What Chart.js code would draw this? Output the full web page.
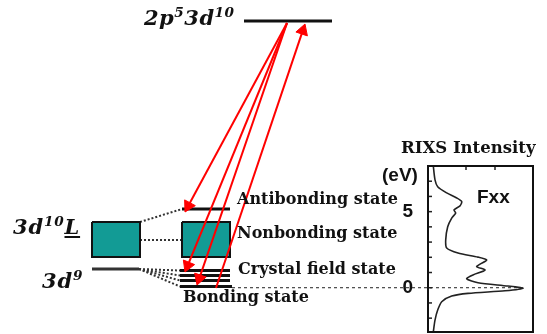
<!DOCTYPE html>
<html lang="en">
<head>
<meta charset="UTF-8">
<title>RIXS energy level diagram</title>
<style>
  body { margin: 0; background: #fff; }
  #wrap { position: relative; width: 547px; height: 334px; overflow: hidden; }
  #wrap canvas { position: absolute; left: 0; top: 0; }
  .lbl { position: absolute; white-space: nowrap; line-height: 1; color: #111; }
  .serif { font-family: 'DejaVu Serif', serif; font-weight: bold; font-size: 16px; }
  .big { font-family: 'DejaVu Serif', serif; font-weight: bold; font-style: italic; font-size: 21px; letter-spacing: 0.8px; }
  .sans { font-family: 'Liberation Sans', Arial, sans-serif; font-weight: bold; font-size: 19px; }
  sup { font-size: 0.65em; line-height: 0; vertical-align: 0.6em; }
</style>
</head>
<body>
<div id="wrap">
  <canvas id="diagram" width="547" height="334"></canvas>
  <canvas id="rixs" width="547" height="334"></canvas>

  <span class="lbl big" style="left:144px; top:7px; letter-spacing:0.5px;">2p<sup>5</sup>3d<sup>10</sup></span>
  <span class="lbl big" style="left:13px; top:216px;">3d<sup>10</sup><u>L</u></span>
  <span class="lbl big" style="left:42px; top:270px;">3d<sup>9</sup></span>

  <span class="lbl serif" style="left:237px; top:191px;">Antibonding state</span>
  <span class="lbl serif" style="left:237px; top:225px;">Nonbonding state</span>
  <span class="lbl serif" style="left:238px; top:261px;">Crystal field state</span>
  <span class="lbl serif" style="left:183px; top:289px;">Bonding state</span>
  <span class="lbl serif" style="left:401px; top:140px; font-size:16.5px;">RIXS Intensity</span>

  <span class="lbl sans" style="left:382px; top:165px;">(eV)</span>
  <span class="lbl sans" style="left:477px; top:187px;">Fxx</span>
</div>

<script src="https://cdn.jsdelivr.net/npm/chart.js"></script>
<script>
  // ---- level diagram, x across, y down (diagram units) ----
  var levelNames = ['2p53d10', '3d9', 'Antibonding', 'Crystal field a', 'Crystal field b', 'Crystal field c', 'Bonding'];
  var levelStart = [244, 92, 182, 180, 180, 180, 180];
  var levelEnd   = [332, 139, 230, 230, 230, 230, 232];
  var levelY     = [21, 269, 209, 270.5, 275.5, 280.5, 286.5];

  var bandNames  = ['3d10L', 'Nonbonding'];
  var bandLeft   = [92, 182];
  var bandRight  = [140, 230];
  var bandTop    = [222, 222];
  var bandBottom = [257, 257];

  // dotted links between the two columns
  var linkFrom = [[140, 222], [140, 240], [139, 269], [139, 269], [139, 269], [139, 269]];
  var linkTo   = [[182, 209], [182, 240], [180, 270.5], [180, 275.5], [180, 280.5], [180, 286.5]];

  // red transitions: tail -> tip
  var arrowFrom = [[287, 23], [287, 23], [287, 23], [216, 288]];
  var arrowTo   = [[185, 212], [185, 272], [197, 285], [305, 24]];

  // ---- RIXS spectrum ----
  var energy    = [8.0, 7.09, 6.64, 6.23, 5.90, 5.66, 5.38, 5.11, 4.91, 4.58, 4.01, 3.14, 2.61, 2.28, 2.01, 1.82, 1.55, 1.38, 1.16, 0.84, 0.59, 0.33, 0.11, -0.04, -0.20, -0.37, -0.55, -0.92, -1.47, -2.13, -2.91];
  var intensity = [5.3, 7, 9.7, 18.7, 28.7, 33.7, 32, 26, 27.7, 23.7, 19.7, 17.7, 18.7, 30, 50, 58.7, 52, 48.7, 57, 45, 38.7, 50, 80, 95, 77, 40, 23.7, 13.7, 9.7, 7, 5.3];
  var eVTicks   = [-2, -1, 0, 1, 2, 3, 4, 5, 6, 7];
  var eVLabels  = [0, 5];
  var topTicks  = [38, 67];

  function seg(a, b) {
    return [{ x: a[0], y: a[1] }, { x: b[0], y: b[1] }];
  }

  var datasets = [];
  var headR = 7;

  arrowFrom.forEach(function(from, i) {
    var to = arrowTo[i];
    var dx = to[0] - from[0], dy = to[1] - from[1];
    var len = Math.sqrt(dx * dx + dy * dy);
    var ux = dx / len, uy = dy / len;
    var head = [to[0] - ux * headR, to[1] - uy * headR];
    var angle = Math.atan2(ux, -uy) * 180 / Math.PI;
    datasets.push({
      data: seg(from, head),
      showLine: true,
      borderColor: '#ff0000',
      borderWidth: 2,
      pointRadius: [0, headR],
      pointStyle: 'triangle',
      pointRotation: [0, angle],
      pointBackgroundColor: '#ff0000',
      pointBorderColor: '#ff0000',
      pointBorderWidth: 1,
      clip: false,
      order: 0
    });
  });

  levelNames.forEach(function(name, i) {
    datasets.push({
      label: name,
      data: seg([levelStart[i], levelY[i]], [levelEnd[i], levelY[i]]),
      showLine: true,
      borderColor: i === 1 ? '#333' : '#111',
      borderWidth: 3,
      pointRadius: 0,
      clip: false,
      order: 1
    });
  });

  bandNames.forEach(function(name, i) {
    datasets.push({
      label: name,
      data: [
        { x: bandLeft[i], y: bandTop[i] }, { x: bandRight[i], y: bandTop[i] },
        { x: bandRight[i], y: bandBottom[i] }, { x: bandLeft[i], y: bandBottom[i] },
        { x: bandLeft[i], y: bandTop[i] }
      ],
      showLine: true,
      fill: 'shape',
      backgroundColor: '#129b95',
      borderColor: '#111',
      borderWidth: 2,
      pointRadius: 0,
      clip: false,
      order: 2
    });
  });

  linkFrom.forEach(function(from, i) {
    datasets.push({
      data: seg(from, linkTo[i]),
      showLine: true,
      borderColor: '#333',
      borderWidth: 2,
      borderDash: [2, 2],
      pointRadius: 0,
      clip: false,
      order: 3
    });
  });

  new Chart(document.getElementById('diagram'), {
    type: 'scatter',
    data: { datasets: datasets },
    options: {
      responsive: false,
      animation: false,
      events: [],
      layout: { padding: 0, autoPadding: false },
      plugins: { legend: { display: false }, tooltip: { enabled: false } },
      scales: {
        x: { type: 'linear', min: 0, max: 547, display: false },
        y: { type: 'linear', min: 0, max: 334, reverse: true, display: false }
      }
    }
  });

  // box round the spectrum
  var frame = {
    id: 'frame',
    afterDatasetsDraw: function(chart) {
      var ctx = chart.ctx, a = chart.chartArea;
      ctx.save();
      ctx.strokeStyle = '#111';
      ctx.lineWidth = 2;
      ctx.strokeRect(a.left, a.top, a.right - a.left, a.bottom - a.top);
      ctx.restore();
    }
  };

  new Chart(document.getElementById('rixs'), {
    type: 'scatter',
    data: {
      datasets: [
        {
          data: energy.map(function(e, i) { return { x: intensity[i], y: e }; }),
          showLine: true,
          borderColor: '#222',
          borderWidth: 1.6,
          pointRadius: 0,
          tension: 0.25,
          clip: 0
        },
        {
          // 0 eV reference, runs back to the bonding level
          data: [{ x: -196, y: 0 }, { x: 97, y: 0 }],
          showLine: true,
          borderColor: '#222',
          borderWidth: 1,
          borderDash: [3, 3],
          pointRadius: 0,
          clip: false
        },
        {
          data: eVTicks.map(function(v) { return { x: 0, y: v }; }),
          pointStyle: 'line',
          pointRadius: 4,
          pointBorderColor: '#222',
          pointBorderWidth: 1.5,
          clip: 0
        },
        {
          data: topTicks.map(function(v) { return { x: v, y: 8.0 }; }),
          pointStyle: 'line',
          pointRotation: 90,
          pointRadius: 4,
          pointBorderColor: '#222',
          pointBorderWidth: 1.5,
          clip: 0
        }
      ]
    },
    options: {
      responsive: false,
      animation: false,
      events: [],
      layout: { padding: { left: 388, top: 166, right: 14, bottom: 2 }, autoPadding: false },
      plugins: { legend: { display: false }, tooltip: { enabled: false } },
      scales: {
        x: { type: 'linear', min: 0, max: 105, display: false },
        y: {
          type: 'linear', min: -2.91, max: 8.0,
          grid: { display: false, drawTicks: false },
          border: { display: false },
          afterFit: function(s) { s.width = 40; s.paddingTop = 0; s.paddingBottom = 0; },
          afterBuildTicks: function(s) { s.ticks = eVLabels.map(function(v) { return { value: v }; }); },
          ticks: { padding: 15, color: '#111', font: { family: 'Liberation Sans', weight: 'bold', size: 19 } }
        }
      }
    },
    plugins: [frame]
  });
</script>
</body>
</html>
